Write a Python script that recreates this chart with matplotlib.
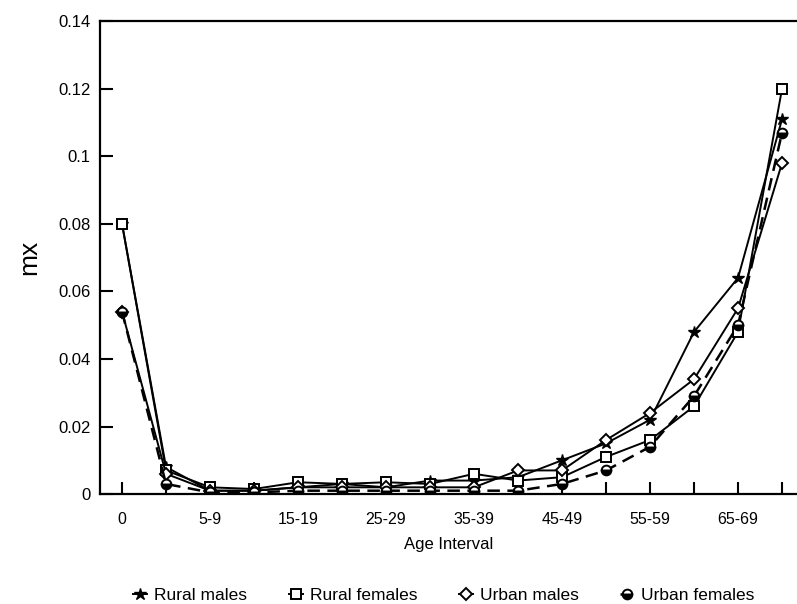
import matplotlib
matplotlib.use('Agg')
import matplotlib.pyplot as plt

plt.rcParams['font.family'] = ['Liberation Sans', 'DejaVu Sans']

# age groups, only every other one gets a tick label
age_groups = ['0', '1-4', '5-9', '10-14', '15-19', '20-24', '25-29', '30-34',
              '35-39', '40-44', '45-49', '50-54', '55-59', '60-64', '65-69', '70+']
tick_labels = ['0', '', '5-9', '', '15-19', '', '25-29', '', '35-39', '',
               '45-49', '', '55-59', '', '65-69', '']

# mx values
rural_males = [0.080, 0.008, 0.001, 0.001, 0.002, 0.003, 0.002, 0.004,
               0.004, 0.005, 0.010, 0.015, 0.022, 0.048, 0.064, 0.111]
rural_females = [0.080, 0.007, 0.002, 0.0015, 0.0035, 0.003, 0.0035, 0.003,
                 0.006, 0.004, 0.005, 0.011, 0.016, 0.026, 0.048, 0.120]
urban_males = [0.054, 0.006, 0.001, 0.001, 0.002, 0.002, 0.002, 0.002,
               0.002, 0.007, 0.007, 0.016, 0.024, 0.034, 0.055, 0.098]
urban_females = [0.054, 0.003, 0.0005, 0.0005, 0.001, 0.001, 0.001, 0.001,
                 0.001, 0.001, 0.003, 0.007, 0.014, 0.029, 0.050, 0.107]


def main():
    fig = plt.figure(figsize=(7.97, 6.04), dpi=100)
    ax = fig.add_axes([0.1255, 0.182, 0.8745, 0.783])

    x = list(range(len(age_groups)))
    ax.plot(x, rural_males, color='black', linewidth=1.4, marker='*',
            markersize=9, markerfacecolor='black', label='Rural males')
    ax.plot(x, rural_females, color='black', linewidth=1.4, marker='s',
            markersize=7, markerfacecolor='white', markeredgewidth=1.4,
            label='Rural females')
    ax.plot(x, urban_males, color='black', linewidth=1.4, marker='D',
            markersize=6, markerfacecolor='white', markeredgewidth=1.4,
            label='Urban males')
    ax.plot(x, urban_females, color='black', linewidth=1.8, linestyle='--',
            dashes=(5, 3), marker='o', markersize=7, fillstyle='bottom',
            markerfacecolor='black', markerfacecoloralt='white',
            markeredgewidth=1.4, label='Urban females')

    ax.set_xlim(-0.5, 15.34)
    ax.set_ylim(0, 0.14)
    ax.set_xticks(x)
    ax.set_xticklabels(tick_labels)
    ax.set_yticks([0, 0.02, 0.04, 0.06, 0.08, 0.1, 0.12, 0.14])
    ax.set_yticklabels(['0', '0.02', '0.04', '0.06', '0.08', '0.1', '0.12', '0.14'])
    ax.tick_params(direction='in', length=9, width=1.5)
    ax.tick_params(axis='x', labelsize=11.5, pad=13)
    ax.tick_params(axis='y', labelsize=12, pad=7)

    for side in ['left', 'bottom', 'top']:
        ax.spines[side].set_linewidth(1.6)
    ax.spines['right'].set_visible(False)

    ax.set_ylabel('mx', fontsize=19, labelpad=12)
    ax.set_xlabel('Age Interval', fontsize=12, labelpad=7)

    handles, labels = ax.get_legend_handles_labels()
    fig.legend(handles, labels, loc='lower center', bbox_to_anchor=(0.557, -0.025),
               ncol=4, frameon=False, fontsize=12.5, handlelength=0.8,
               handletextpad=0.4, columnspacing=2.4)

    fig.savefig('out.png', dpi=100)


if __name__ == '__main__':
    main()
